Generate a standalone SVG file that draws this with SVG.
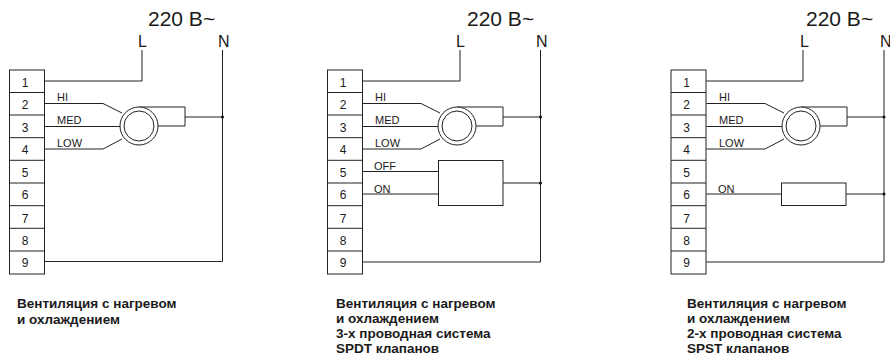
<svg xmlns="http://www.w3.org/2000/svg" width="890" height="355" viewBox="0 0 890 355">
<style>
text{font-family:"Liberation Sans",Arial,sans-serif;fill:#1a1a1a}
.v{font-size:21px}.ln{font-size:16px}.n{font-size:12px;text-anchor:middle}.w{font-size:11px}.c{font-size:13.500px;font-weight:bold}
.s{fill:none;stroke:#222;stroke-width:1}
.b{fill:#fff;stroke:#222;stroke-width:1}
.d{fill:#111}
</style>
<defs>
<g id="strip">
<rect class="s" x="0.500" y="70" width="35" height="204"/>
<path class="s" d="M0.500 92.500H35.500M0.500 115H35.500M0.500 137.700H35.500M0.500 160.300H35.500M0.500 183H35.500M0.500 205.700H35.500M0.500 228.300H35.500M0.500 251H35.500"/>
<text class="n" x="16" y="87">1</text>
<text class="n" x="16" y="109">2</text>
<text class="n" x="16" y="132">3</text>
<text class="n" x="16" y="154">4</text>
<text class="n" x="16" y="177">5</text>
<text class="n" x="16" y="199">6</text>
<text class="n" x="16" y="223">7</text>
<text class="n" x="16" y="245">8</text>
<text class="n" x="16" y="267">9</text>
</g>
<g id="fan">
<path class="b" d="M0 0H46V19H19"/>
<circle class="b" cx="0" cy="19" r="19"/>
<circle class="b" cx="0" cy="19" r="15"/>
</g>
<g id="fanwires">
<path class="s" d="M35.500 103.500H94L113 113M35.500 126.500H111M35.500 149H94L113 139"/>
<text class="w" x="48" y="101">HI</text>
<text class="w" x="48" y="124">MED</text>
<text class="w" x="48" y="147">LOW</text>
</g>
</defs>
<g id="connectors">
<g transform="translate(9,0)"><use href="#fanwires"/></g>
<path class="s" d="M44 81H142V50M222.500 50V261.500H44M185 117H222.500"/>
<circle class="d" cx="222.500" cy="117" r="1.500"/>
<g transform="translate(327,0)"><use href="#fanwires"/></g>
<path class="s" d="M362 81H460V50M540.500 50V262H362M503 117H540.500M362.500 171.500H438M362.500 194H438M503 183H540.500"/>
<circle class="d" cx="540.500" cy="117" r="1.500"/>
<circle class="d" cx="540.500" cy="183" r="1.500"/>
<text class="w" x="374" y="170">OFF</text>
<text class="w" x="374" y="193">ON</text>
<g transform="translate(671,0)"><use href="#fanwires"/></g>
<path class="s" d="M706 81H803V50M884 50V262H706M846 117H884M706 194H781M846 194H884"/>
<circle class="d" cx="884" cy="117" r="1.500"/>
<circle class="d" cx="884" cy="194" r="1.500"/>
<text class="w" x="718" y="193">ON</text>
</g>
<g id="panel1">
<use href="#strip" x="9"/>
<use href="#fan" x="139" y="107"/>
<text class="v" x="148" y="26">220 В~</text>
<text class="ln" x="138" y="47">L</text>
<text class="ln" x="218" y="47">N</text>
<text class="c" x="17" y="308">Вентиляция с нагревом</text>
<text class="c" x="17" y="324">и охлаждением</text>
</g>
<g id="panel2">
<use href="#strip" x="327"/>
<use href="#fan" x="457" y="107"/>
<rect class="b" x="438.500" y="160.500" width="64.500" height="45"/>
<text class="v" x="467" y="26">220 В~</text>
<text class="ln" x="456" y="47">L</text>
<text class="ln" x="536" y="47">N</text>
<text class="c" x="336" y="308">Вентиляция с нагревом</text>
<text class="c" x="336" y="323">и охлаждением</text>
<text class="c" x="336" y="338">3-х проводная система</text>
<text class="c" x="336" y="353">SPDT клапанов</text>
</g>
<g id="panel3">
<use href="#strip" x="670.500"/>
<use href="#fan" x="801" y="107"/>
<rect class="b" x="781.500" y="183" width="64.500" height="22.500"/>
<text class="v" x="806" y="26">220 В~</text>
<text class="ln" x="800" y="47">L</text>
<text class="ln" x="880" y="47">N</text>
<text class="c" x="687" y="308">Вентиляция с нагревом</text>
<text class="c" x="687" y="323">и охлаждением</text>
<text class="c" x="687" y="338">2-х проводная система</text>
<text class="c" x="687" y="353">SPST клапанов</text>
</g>
</svg>
